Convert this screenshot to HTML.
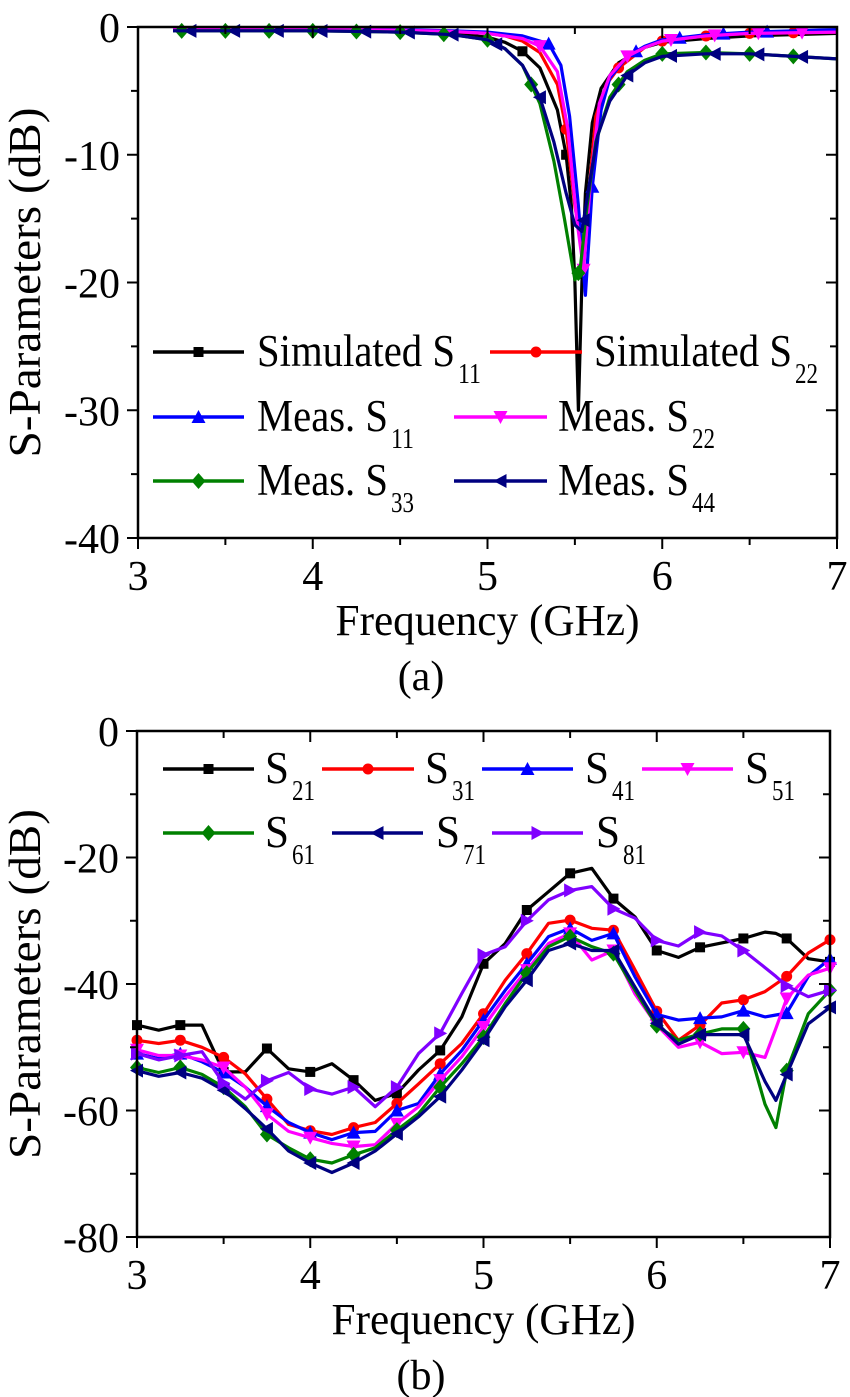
<!DOCTYPE html>
<html><head><meta charset="utf-8"><style>
html,body{margin:0;padding:0;background:#fff;}
svg{display:block;font-family:"Liberation Serif","Tinos","Times New Roman","DejaVu Serif",serif;}
svg text{font-family:"Liberation Serif","Tinos","Times New Roman","DejaVu Serif",serif;}
</style></head><body>
<svg id="fig" width="850" height="1397" viewBox="0 0 850 1397" xmlns="http://www.w3.org/2000/svg"></svg>
<script>
// ---------- Panel (a) data ----------
const aS11SimF=[3.2,3.5,4,4.5,4.8,5.0,5.1,5.2,5.3,5.4,5.45,5.48,5.5,5.52,5.54,5.56,5.6,5.65,5.75,5.9,6.0,6.25,6.5,7];
const aS11SimV=[-0.1,-0.1,-0.2,-0.3,-0.5,-0.8,-1.2,-1.9,-3.2,-6.5,-10,-14,-20,-30,-20,-13,-7.5,-4.8,-2.8,-1.6,-1.2,-0.9,-0.7,-0.5];
const aS22SimF=[3.2,3.5,4,4.5,4.8,5.0,5.1,5.2,5.3,5.4,5.45,5.5,5.55,5.58,5.62,5.68,5.75,5.9,6.0,6.25,6.5,7];
const aS22SimV=[-0.1,-0.1,-0.15,-0.25,-0.35,-0.5,-0.7,-1.1,-2,-4.5,-8,-14,-18,-13,-7,-4.5,-3.2,-1.6,-1.1,-0.7,-0.5,-0.4];
const aS11MeasF=[3.2,3.5,4,4.5,4.8,5.0,5.2,5.35,5.42,5.47,5.52,5.56,5.6,5.65,5.7,5.8,5.9,6.0,6.25,6.5,7];
const aS11MeasV=[-0.1,-0.1,-0.1,-0.2,-0.3,-0.4,-0.7,-1.3,-3,-7,-14,-21,-12.5,-6.5,-4,-2.3,-1.5,-1.0,-0.6,-0.4,-0.2];
const aS22MeasF=[3.2,3.5,4,4.5,4.8,5.0,5.2,5.3,5.4,5.46,5.51,5.55,5.59,5.64,5.7,5.8,5.9,6.0,6.25,6.5,7];
const aS22MeasV=[-0.1,-0.1,-0.15,-0.25,-0.35,-0.5,-0.9,-1.5,-3.5,-8,-15,-19,-12,-6,-3.8,-2.3,-1.6,-1.1,-0.7,-0.5,-0.4];
const aS33MeasF=[3.2,3.5,4,4.5,4.8,5.0,5.1,5.2,5.3,5.38,5.44,5.5,5.53,5.57,5.62,5.7,5.8,5.9,6.0,6.25,6.5,7];
const aS33MeasV=[-0.3,-0.3,-0.3,-0.4,-0.6,-1.0,-1.7,-3,-6,-10.5,-15,-19.8,-19,-14,-9,-5.5,-3.5,-2.6,-2.1,-2.0,-2.1,-2.5];
const aS44MeasF=[3.2,3.5,4,4.5,4.8,5.0,5.1,5.2,5.3,5.38,5.45,5.5,5.54,5.58,5.63,5.7,5.8,5.9,6.0,6.25,6.5,7];
const aS44MeasV=[-0.3,-0.3,-0.3,-0.4,-0.6,-1.0,-1.7,-3,-5.5,-9,-13,-15.5,-16,-12.5,-8.5,-5.8,-3.8,-2.8,-2.3,-2.1,-2.1,-2.5];
const aXTicks=[3,4,5,6,7];
const aYTicks=[0,-10,-20,-30,-40];

// ---------- Panel (b) data ----------
const bF=[3,3.125,3.25,3.375,3.5,3.625,3.75,3.875,4,4.125,4.25,4.375,4.5,4.625,4.75,4.875,5,5.125,5.25,5.375,5.5,5.625,5.75,5.875,6,6.125,6.25,6.375,6.5,6.625,6.6875,6.75,6.875,7];
const bS21=[-46.5,-47.3,-46.5,-46.5,-53.9,-53.9,-50.2,-53.4,-53.9,-52.6,-55.2,-58.4,-57.3,-53.6,-50.5,-45.2,-36.8,-33.6,-28.3,-25.4,-22.5,-21.7,-26.5,-29.4,-34.7,-35.8,-34.2,-33.5,-32.8,-31.8,-32,-32.8,-36,-36.5];
const bS31=[-48.9,-49.4,-48.9,-50,-51.6,-54.2,-58.2,-62.2,-63.2,-63.8,-62.7,-61.9,-58.9,-55.8,-52.6,-49.4,-44.7,-39.4,-35.2,-30.4,-29.9,-31.2,-31.5,-37.8,-44.3,-48.9,-46.5,-43,-42.5,-41.2,-40,-38.8,-35.1,-33];
const bS41=[-51,-51.8,-51,-52.3,-54,-56.3,-59.3,-61.9,-63.5,-64.6,-63.5,-63.3,-60,-58.9,-54.2,-50.5,-45.7,-41,-36.8,-32.5,-31.2,-33.1,-32,-38.9,-44.8,-45.7,-45.4,-45.2,-44.2,-45.2,-44.9,-44.6,-38.8,-36];
const bS51=[-50.4,-51.3,-51.3,-52,-53.2,-56.3,-60.6,-63.3,-64.3,-65.2,-65.7,-65.4,-62.1,-59.4,-55.2,-51.5,-46.8,-42,-37.8,-33.6,-32,-36.2,-34.7,-41.6,-46.5,-50,-49.2,-51,-50.8,-51.6,-47,-42.3,-38.6,-37.5];
const bS61=[-53.2,-54,-53.2,-54.3,-56.3,-59.4,-63.8,-65.9,-67.7,-68.3,-67,-65.9,-63.1,-60.5,-56.3,-52.6,-48.4,-43.1,-38.3,-34.1,-32.5,-34.1,-35.2,-41,-46.6,-48.9,-47.9,-47.1,-47.1,-59,-62.7,-53.7,-44.7,-41];
const bS71=[-53.7,-54.6,-54,-54.9,-56.8,-59.7,-62.9,-66.4,-68.3,-69.8,-68.3,-66.4,-63.7,-61,-57.8,-53.6,-48.9,-43.6,-39.4,-34.7,-33.6,-34.7,-34.7,-40.5,-46.2,-49.5,-48,-48,-48,-55.4,-58.4,-54.3,-46.3,-43.7];
const bS81=[-51,-52,-51.3,-50.7,-55.7,-58.2,-55.3,-54,-56.6,-57.4,-56.3,-59.4,-56.3,-51,-47.8,-41.5,-35.4,-34.1,-30,-26.7,-25.2,-24.6,-28.1,-29.6,-33.1,-34,-31.8,-32.4,-34.7,-37.4,-38.8,-40.3,-42,-41];
const bXTicks=[3,4,5,6,7];
const bYTicks=[0,-20,-40,-60,-80];

const NS="http://www.w3.org/2000/svg";
const svg=document.getElementById('fig');
function el(tag,attrs,parent){const e=document.createElementNS(NS,tag);for(const k in attrs)e.setAttribute(k,attrs[k]);(parent||svg).appendChild(e);return e;}

function marker(g,type,x,y,color){
  let m;
  const s=7;
  if(type==='square') m=el('rect',{x:x-5,y:y-5,width:10,height:10,fill:color},g);
  else if(type==='circle') m=el('circle',{cx:x,cy:y,r:5.5,fill:color},g);
  else if(type==='up') m=el('polygon',{points:`${x},${y-s} ${x-s},${y+s-1} ${x+s},${y+s-1}`,fill:color},g);
  else if(type==='down') m=el('polygon',{points:`${x},${y+s} ${x-s},${y-s+1} ${x+s},${y-s+1}`,fill:color},g);
  else if(type==='diamond') m=el('polygon',{points:`${x},${y-s-1} ${x+s},${y} ${x},${y+s+1} ${x-s},${y}`,fill:color},g);
  else if(type==='left') m=el('polygon',{points:`${x-s},${y} ${x+s-1},${y-s} ${x+s-1},${y+s}`,fill:color},g);
  else if(type==='right') m=el('polygon',{points:`${x+s},${y} ${x-s+1},${y-s} ${x-s+1},${y+s}`,fill:color},g);
  
  
}

function interp(F,V,f){
  if(f<=F[0])return V[0];
  for(let i=1;i<F.length;i++){if(f<=F[i]){const t=(f-F[i-1])/(F[i]-F[i-1]);return V[i-1]+t*(V[i]-V[i-1]);}}
  return V[V.length-1];
}

function panel(cfg){
  const {x0,x1,y0,y1,ymin,ymax,name}=cfg;
  const X=f=>x0+(f-3)/(7-3)*(x1-x0);
  const Y=v=>y0+(ymax-v)/(ymax-ymin)*(y1-y0);
  const g=el('g',{});
  
  
  cfg.series.forEach(s=>{
    const sg=el('g',{},g);
    
    
    const pts=s.F.map((f,i)=>`${X(f).toFixed(1)},${Y(s.V[i]).toFixed(1)}`).join(' ');
    const pl=el('polyline',{points:pts,fill:'none',stroke:s.color,'stroke-width':3.2,'stroke-linejoin':'round'},sg);
    
    
    s.markF.forEach(f=>marker(sg,s.mk,X(f),Y(interp(s.F,s.V,f)),s.color));
  });
  const fr=el('rect',{x:x0,y:y0,width:x1-x0,height:y1-y0,fill:'none',stroke:'#000','stroke-width':2.5},g);
  
  
  for(let f=3;f<=7.001;f+=0.5){
    const xx=X(f);const L=(Math.abs(f-Math.round(f))<0.01)?11:7;
    el('line',{x1:xx,y1:y1,x2:xx,y2:y1+L,stroke:'#000','stroke-width':2},g);
    el('line',{x1:xx,y1:y0,x2:xx,y2:y0+L,stroke:'#000','stroke-width':2},g);
  }
  cfg.xTicks.forEach(t=>{
    const tx=el('text',{x:X(t),y:y1+52,'font-size':42,'text-anchor':'middle'},g);
    tx.textContent=t;
    
    
  });
  const step=(cfg.yTicks[0]-cfg.yTicks[1])/2;
  for(let v=ymax;v>=ymin-0.01;v-=step){
    const yy=Y(v);const major=cfg.yTicks.some(t=>Math.abs(t-v)<0.01);const L=major?11:7;
    el('line',{x1:x0,y1:yy,x2:x0-L,y2:yy,stroke:'#000','stroke-width':2},g);
    el('line',{x1:x1,y1:yy,x2:x1-L,y2:yy,stroke:'#000','stroke-width':2},g);
  }
  cfg.yTicks.forEach(t=>{
    const tx=el('text',{x:x0-18,y:Y(t)+15,'font-size':42,'text-anchor':'end'},g);
    tx.textContent=t;
    
    
  });
  const xt=el('text',{x:(x0+x1)/2,y:y1+97,'font-size':44,'text-anchor':'middle',textLength:304,lengthAdjust:'spacingAndGlyphs'},g);
  xt.textContent='Frequency (GHz)';
  
  
  const yt=el('text',{x:0,y:0,'font-size':45,'text-anchor':'middle',textLength:350,lengthAdjust:'spacingAndGlyphs',transform:`translate(40,${(y0+y1)/2}) rotate(-90)`},g);
  yt.textContent='S-Parameters (dB)';
  
  
  const cap=el('text',{x:421,y:y1+152,'font-size':42,'text-anchor':'middle'},g);
  cap.textContent=cfg.caption;
  
  
  cfg.series.forEach(s=>{
    const lg=el('g',{},g);
    
    
    const [lx1,lx2,tx,ly]=s.leg;
    el('line',{x1:lx1,y1:ly,x2:lx2,y2:ly,stroke:s.color,'stroke-width':3.5},lg);
    marker(lg,s.mk,(lx1+lx2)/2,ly,s.color);
    const w=s.label.length>2?(s.label.length>8?198:131):24;
    const t=el('text',{x:tx,y:ly+14,'font-size':45,textLength:w,lengthAdjust:'spacingAndGlyphs'},lg);
    t.textContent=s.label;
    const sub=el('text',{x:tx+w+3,y:ly+31,'font-size':29,textLength:23,lengthAdjust:'spacingAndGlyphs'},lg);
    sub.textContent=s.sub;
  });
}

panel({name:'panel-a',x0:138,x1:837,y0:27,y1:538,ymin:-40,ymax:0,xTicks:aXTicks,yTicks:aYTicks,caption:'(a)',
 series:[
  {id:'sim-s11',F:aS11SimF,V:aS11SimV,color:'#000000',mk:'square',markF:[5.2,5.45],label:'Simulated S',sub:'11',leg:[153,244,257,352]},
  {id:'sim-s22',F:aS22SimF,V:aS22SimV,color:'#ff0000',mk:'circle',markF:[5.45,5.75,6.0,6.25,6.5,6.75],label:'Simulated S',sub:'22',leg:[490,582,594,352]},
  {id:'meas-s11',F:aS11MeasF,V:aS11MeasV,color:'#0000ff',mk:'up',markF:[5.35,5.6,5.85,6.1,6.35,6.6],label:'Meas. S',sub:'11',leg:[153,244,257,417]},
  {id:'meas-s22',F:aS22MeasF,V:aS22MeasV,color:'#ff00ff',mk:'down',markF:[5.3,5.55,5.8,6.05,6.3,6.55,6.8],label:'Meas. S',sub:'22',leg:[454,547,558,417]},
  {id:'meas-s33',F:aS33MeasF,V:aS33MeasV,color:'#008000',mk:'diamond',markF:[3.25,3.5,3.75,4,4.25,4.5,4.75,5,5.25,5.52,5.75,6,6.25,6.5,6.75],label:'Meas. S',sub:'33',leg:[153,244,257,481]},
  {id:'meas-s44',F:aS44MeasF,V:aS44MeasV,color:'#000080',mk:'left',markF:[3.3,3.55,3.8,4.05,4.3,4.55,4.8,5.05,5.3,5.55,5.8,6.05,6.3,6.55,6.8],label:'Meas. S',sub:'44',leg:[454,547,558,481]}
 ]});

const bMarks=[3,3.25,3.5,3.75,4,4.25,4.5,4.75,5,5.25,5.5,5.75,6,6.25,6.5,6.75,7];
panel({name:'panel-b',x0:137,x1:830,y0:731,y1:1237,ymin:-80,ymax:0,xTicks:bXTicks,yTicks:bYTicks,caption:'(b)',
 series:[
  {id:'s21',F:bF,V:bS21,color:'#000000',mk:'square',markF:bMarks,label:'S',sub:'21',leg:[163,254,265,769]},
  {id:'s31',F:bF,V:bS31,color:'#ff0000',mk:'circle',markF:bMarks,label:'S',sub:'31',leg:[322,414,425,769]},
  {id:'s41',F:bF,V:bS41,color:'#0000ff',mk:'up',markF:bMarks,label:'S',sub:'41',leg:[482,573,585,769]},
  {id:'s51',F:bF,V:bS51,color:'#ff00ff',mk:'down',markF:bMarks,label:'S',sub:'51',leg:[642,733,745,769]},
  {id:'s61',F:bF,V:bS61,color:'#008000',mk:'diamond',markF:bMarks,label:'S',sub:'61',leg:[163,254,265,833]},
  {id:'s71',F:bF,V:bS71,color:'#000080',mk:'left',markF:bMarks,label:'S',sub:'71',leg:[332,423,436,833]},
  {id:'s81',F:bF,V:bS81,color:'#8000ff',mk:'right',markF:bMarks,label:'S',sub:'81',leg:[492,583,596,833]}
 ]});
</script>
</body></html>
